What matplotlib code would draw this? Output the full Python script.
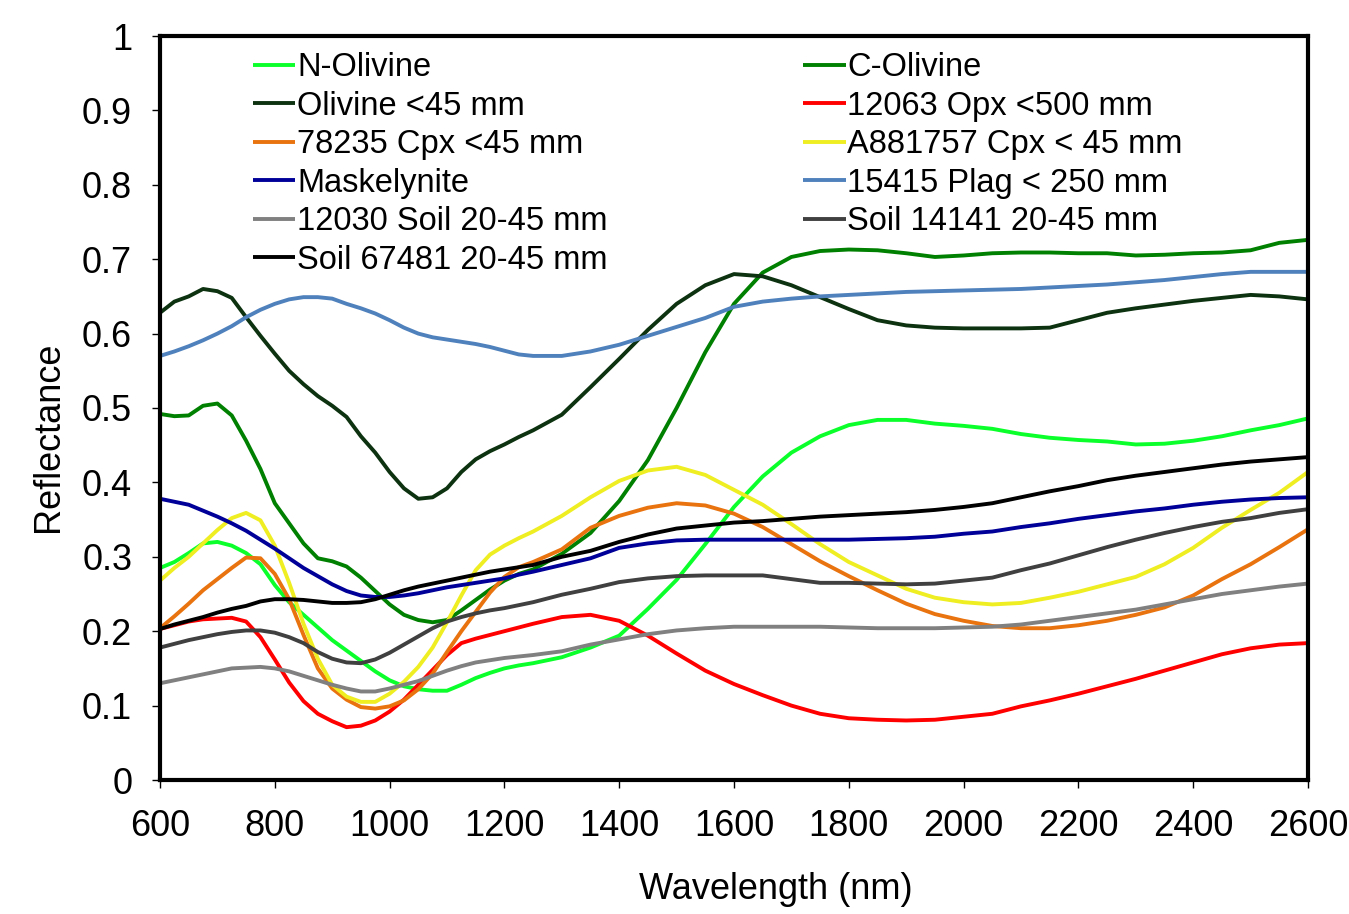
import matplotlib
matplotlib.use("Agg")
import matplotlib.pyplot as plt
from matplotlib.ticker import MultipleLocator, FuncFormatter

plt.rcParams['font.family'] = ['Liberation Sans', 'DejaVu Sans']

# === Data ===
# every 25 nm up to 1250, then every 50 nm
wavelength = list(range(600, 1251, 25)) + list(range(1300, 2601, 50))

n_olivine = [0.285, 0.293, 0.305, 0.318, 0.320, 0.315, 0.305, 0.290, 0.262, 0.239,
             0.222, 0.205, 0.188, 0.174, 0.160, 0.146, 0.134, 0.126, 0.122, 0.120,
             0.120, 0.128, 0.137, 0.144, 0.150, 0.154, 0.157,
             0.165, 0.178, 0.194, 0.230, 0.269, 0.317, 0.367, 0.408, 0.440, 0.462,
             0.477, 0.484, 0.484, 0.479, 0.476, 0.472, 0.465, 0.460, 0.457, 0.455,
             0.451, 0.452, 0.456, 0.462, 0.470, 0.477, 0.486]
c_olivine = [0.492, 0.489, 0.490, 0.503, 0.506, 0.490, 0.456, 0.418, 0.372, 0.345,
             0.318, 0.298, 0.294, 0.287, 0.272, 0.254, 0.236, 0.222, 0.215, 0.212,
             0.215, 0.228, 0.242, 0.256, 0.268, 0.277, 0.283,
             0.304, 0.332, 0.375, 0.430, 0.500, 0.575, 0.640, 0.682, 0.703, 0.711,
             0.713, 0.712, 0.708, 0.703, 0.705, 0.708, 0.709, 0.709, 0.708, 0.708,
             0.705, 0.706, 0.708, 0.709, 0.712, 0.722, 0.726]
olivine_45 = [0.628, 0.643, 0.650, 0.660, 0.657, 0.648, 0.622, 0.597, 0.573, 0.550,
              0.532, 0.516, 0.503, 0.488, 0.462, 0.440, 0.414, 0.392, 0.378, 0.380,
              0.392, 0.414, 0.431, 0.442, 0.451, 0.461, 0.470,
              0.491, 0.528, 0.566, 0.605, 0.640, 0.665, 0.680, 0.677, 0.665, 0.649,
              0.633, 0.618, 0.611, 0.608, 0.607, 0.607, 0.607, 0.608, 0.618, 0.628,
              0.634, 0.639, 0.644, 0.648, 0.652, 0.650, 0.646]
opx_12063 = [0.203, 0.208, 0.213, 0.216, 0.217, 0.218, 0.213, 0.192, 0.162, 0.131,
             0.106, 0.089, 0.079, 0.071, 0.073, 0.080, 0.092, 0.108, 0.128, 0.148,
             0.168, 0.184, 0.190, 0.195, 0.200, 0.205, 0.210,
             0.219, 0.222, 0.214, 0.194, 0.170, 0.147, 0.129, 0.114, 0.100, 0.089,
             0.083, 0.081, 0.080, 0.081, 0.085, 0.089, 0.099, 0.107, 0.116, 0.126,
             0.136, 0.147, 0.158, 0.169, 0.177, 0.182, 0.184]
cpx_78235 = [0.204, 0.220, 0.237, 0.255, 0.270, 0.285, 0.299, 0.298, 0.277, 0.243,
             0.195, 0.150, 0.123, 0.108, 0.098, 0.096, 0.099, 0.107, 0.122, 0.143,
             0.172, 0.200, 0.226, 0.252, 0.273, 0.286, 0.293,
             0.310, 0.339, 0.355, 0.366, 0.372, 0.369, 0.358, 0.340, 0.317, 0.294,
             0.274, 0.255, 0.237, 0.223, 0.214, 0.207, 0.204, 0.204, 0.208, 0.214,
             0.222, 0.232, 0.248, 0.270, 0.290, 0.313, 0.337]
cpx_a881757 = [0.268, 0.285, 0.300, 0.318, 0.336, 0.352, 0.359, 0.349, 0.315, 0.265,
               0.210, 0.163, 0.128, 0.112, 0.105, 0.105, 0.116, 0.132, 0.152, 0.178,
               0.212, 0.248, 0.282, 0.303, 0.315, 0.325, 0.334,
               0.355, 0.380, 0.402, 0.416, 0.421, 0.410, 0.390, 0.370, 0.344, 0.317,
               0.293, 0.275, 0.257, 0.245, 0.239, 0.236, 0.238, 0.245, 0.253, 0.263,
               0.273, 0.290, 0.312, 0.339, 0.363, 0.386, 0.414]
maskelynite = [0.378, 0.374, 0.370, 0.362, 0.354, 0.345, 0.335, 0.323, 0.311, 0.298,
               0.285, 0.274, 0.263, 0.254, 0.248, 0.246, 0.246, 0.248, 0.251, 0.255,
               0.259, 0.262, 0.265, 0.268, 0.271, 0.276, 0.280,
               0.289, 0.298, 0.312, 0.318, 0.322, 0.323, 0.323, 0.323, 0.323, 0.323,
               0.323, 0.324, 0.325, 0.327, 0.331, 0.334, 0.340, 0.345, 0.351, 0.356,
               0.361, 0.365, 0.370, 0.374, 0.377, 0.379, 0.380]
plag_15415 = [0.570, 0.576, 0.583, 0.591, 0.600, 0.610, 0.622, 0.632, 0.640, 0.646,
              0.649, 0.649, 0.647, 0.640, 0.634, 0.627, 0.618, 0.608, 0.600, 0.595,
              0.592, 0.589, 0.586, 0.582, 0.577, 0.572, 0.570,
              0.570, 0.576, 0.585, 0.597, 0.609, 0.621, 0.636, 0.643, 0.647, 0.650,
              0.652, 0.654, 0.656, 0.657, 0.658, 0.659, 0.660, 0.662, 0.664, 0.666,
              0.669, 0.672, 0.676, 0.680, 0.683, 0.683, 0.683]
soil_12030 = [0.130, 0.134, 0.138, 0.142, 0.146, 0.150, 0.151, 0.152, 0.150, 0.146,
              0.140, 0.134, 0.128, 0.123, 0.119, 0.119, 0.123, 0.128, 0.133, 0.140,
              0.147, 0.153, 0.158, 0.161, 0.164, 0.166, 0.168,
              0.173, 0.182, 0.189, 0.196, 0.201, 0.204, 0.206, 0.206, 0.206, 0.206,
              0.205, 0.204, 0.204, 0.204, 0.205, 0.206, 0.209, 0.214, 0.219, 0.224,
              0.229, 0.236, 0.243, 0.250, 0.255, 0.260, 0.264]
soil_14141 = [0.178, 0.183, 0.188, 0.192, 0.196, 0.199, 0.201, 0.201, 0.198, 0.192,
              0.184, 0.172, 0.163, 0.158, 0.157, 0.162, 0.171, 0.182, 0.193, 0.204,
              0.213, 0.219, 0.224, 0.228, 0.231, 0.235, 0.239,
              0.249, 0.257, 0.266, 0.271, 0.274, 0.275, 0.275, 0.275, 0.270, 0.265,
              0.265, 0.264, 0.263, 0.264, 0.268, 0.272, 0.282, 0.291, 0.302, 0.313,
              0.323, 0.332, 0.340, 0.347, 0.352, 0.359, 0.364]
soil_67481 = [0.203, 0.209, 0.214, 0.219, 0.225, 0.230, 0.234, 0.240, 0.243, 0.243,
              0.242, 0.240, 0.238, 0.238, 0.239, 0.243, 0.249, 0.255, 0.260, 0.264,
              0.268, 0.272, 0.276, 0.280, 0.283, 0.286, 0.289,
              0.300, 0.308, 0.320, 0.330, 0.338, 0.342, 0.346, 0.348, 0.351, 0.354,
              0.356, 0.358, 0.360, 0.363, 0.367, 0.372, 0.380, 0.388, 0.395, 0.403,
              0.409, 0.414, 0.419, 0.424, 0.428, 0.431, 0.434]

series = [
    ("N-Olivine", n_olivine, "#0BFF2B"),
    ("C-Olivine", c_olivine, "#008000"),
    ("Olivine <45 mm", olivine_45, "#0C3210"),
    ("12063 Opx <500 mm", opx_12063, "#FF0000"),
    ("78235 Cpx <45 mm", cpx_78235, "#E8730F"),
    ("A881757 Cpx < 45 mm", cpx_a881757, "#EEEE22"),
    ("Maskelynite", maskelynite, "#000099"),
    ("15415 Plag < 250 mm", plag_15415, "#4F81BD"),
    ("12030 Soil 20-45 mm", soil_12030, "#808080"),
    ("Soil 14141 20-45 mm", soil_14141, "#404040"),
    ("Soil 67481 20-45 mm", soil_67481, "#000000"),
]

# === Plot ===
fig = plt.figure(figsize=(13.49, 9.14), dpi=100)
ax = fig.add_axes([160 / 1349, 1 - 780 / 914, 1148 / 1349, 744 / 914])

handles = {}
for name, vals, col in series:
    ln, = ax.plot(wavelength, vals, color=col, lw=2.8,
                  solid_joinstyle='round', solid_capstyle='butt')
    handles[name] = ln

ax.set_xlim(600, 2600)
ax.set_ylim(0, 1)
ax.xaxis.set_major_locator(MultipleLocator(200))
ax.yaxis.set_major_locator(MultipleLocator(0.1))
ax.yaxis.set_major_formatter(FuncFormatter(lambda v, p: "%g" % round(v, 1)))

for sp in ax.spines.values():
    sp.set_linewidth(3)
ax.tick_params(axis='both', direction='out', length=6, width=1, labelsize=26)
ax.tick_params(axis='y', pad=14)
ax.tick_params(axis='x', pad=15)

ax.set_xlabel("Wavelength (nm)", fontsize=26)
ax.set_ylabel("Reflectance", fontsize=26)
ax.xaxis.set_label_coords(0.536, -0.124)
ax.yaxis.set_label_coords(-0.082, 0.461)

# legend: fill column-wise so rows read like the original
order = ["N-Olivine", "Olivine <45 mm", "78235 Cpx <45 mm", "Maskelynite",
         "12030 Soil 20-45 mm", "Soil 67481 20-45 mm",
         "C-Olivine", "12063 Opx <500 mm", "A881757 Cpx < 45 mm",
         "15415 Plag < 250 mm", "Soil 14141 20-45 mm"]
ax.legend([handles[k] for k in order], order, ncol=2, loc='upper left',
          bbox_to_anchor=(0.081, 0.978), frameon=False, fontsize=23.5,
          handlelength=1.3, handletextpad=0.05, labelspacing=0.23,
          columnspacing=6.0, borderpad=0, borderaxespad=0)

fig.savefig("out.png", dpi=100)
